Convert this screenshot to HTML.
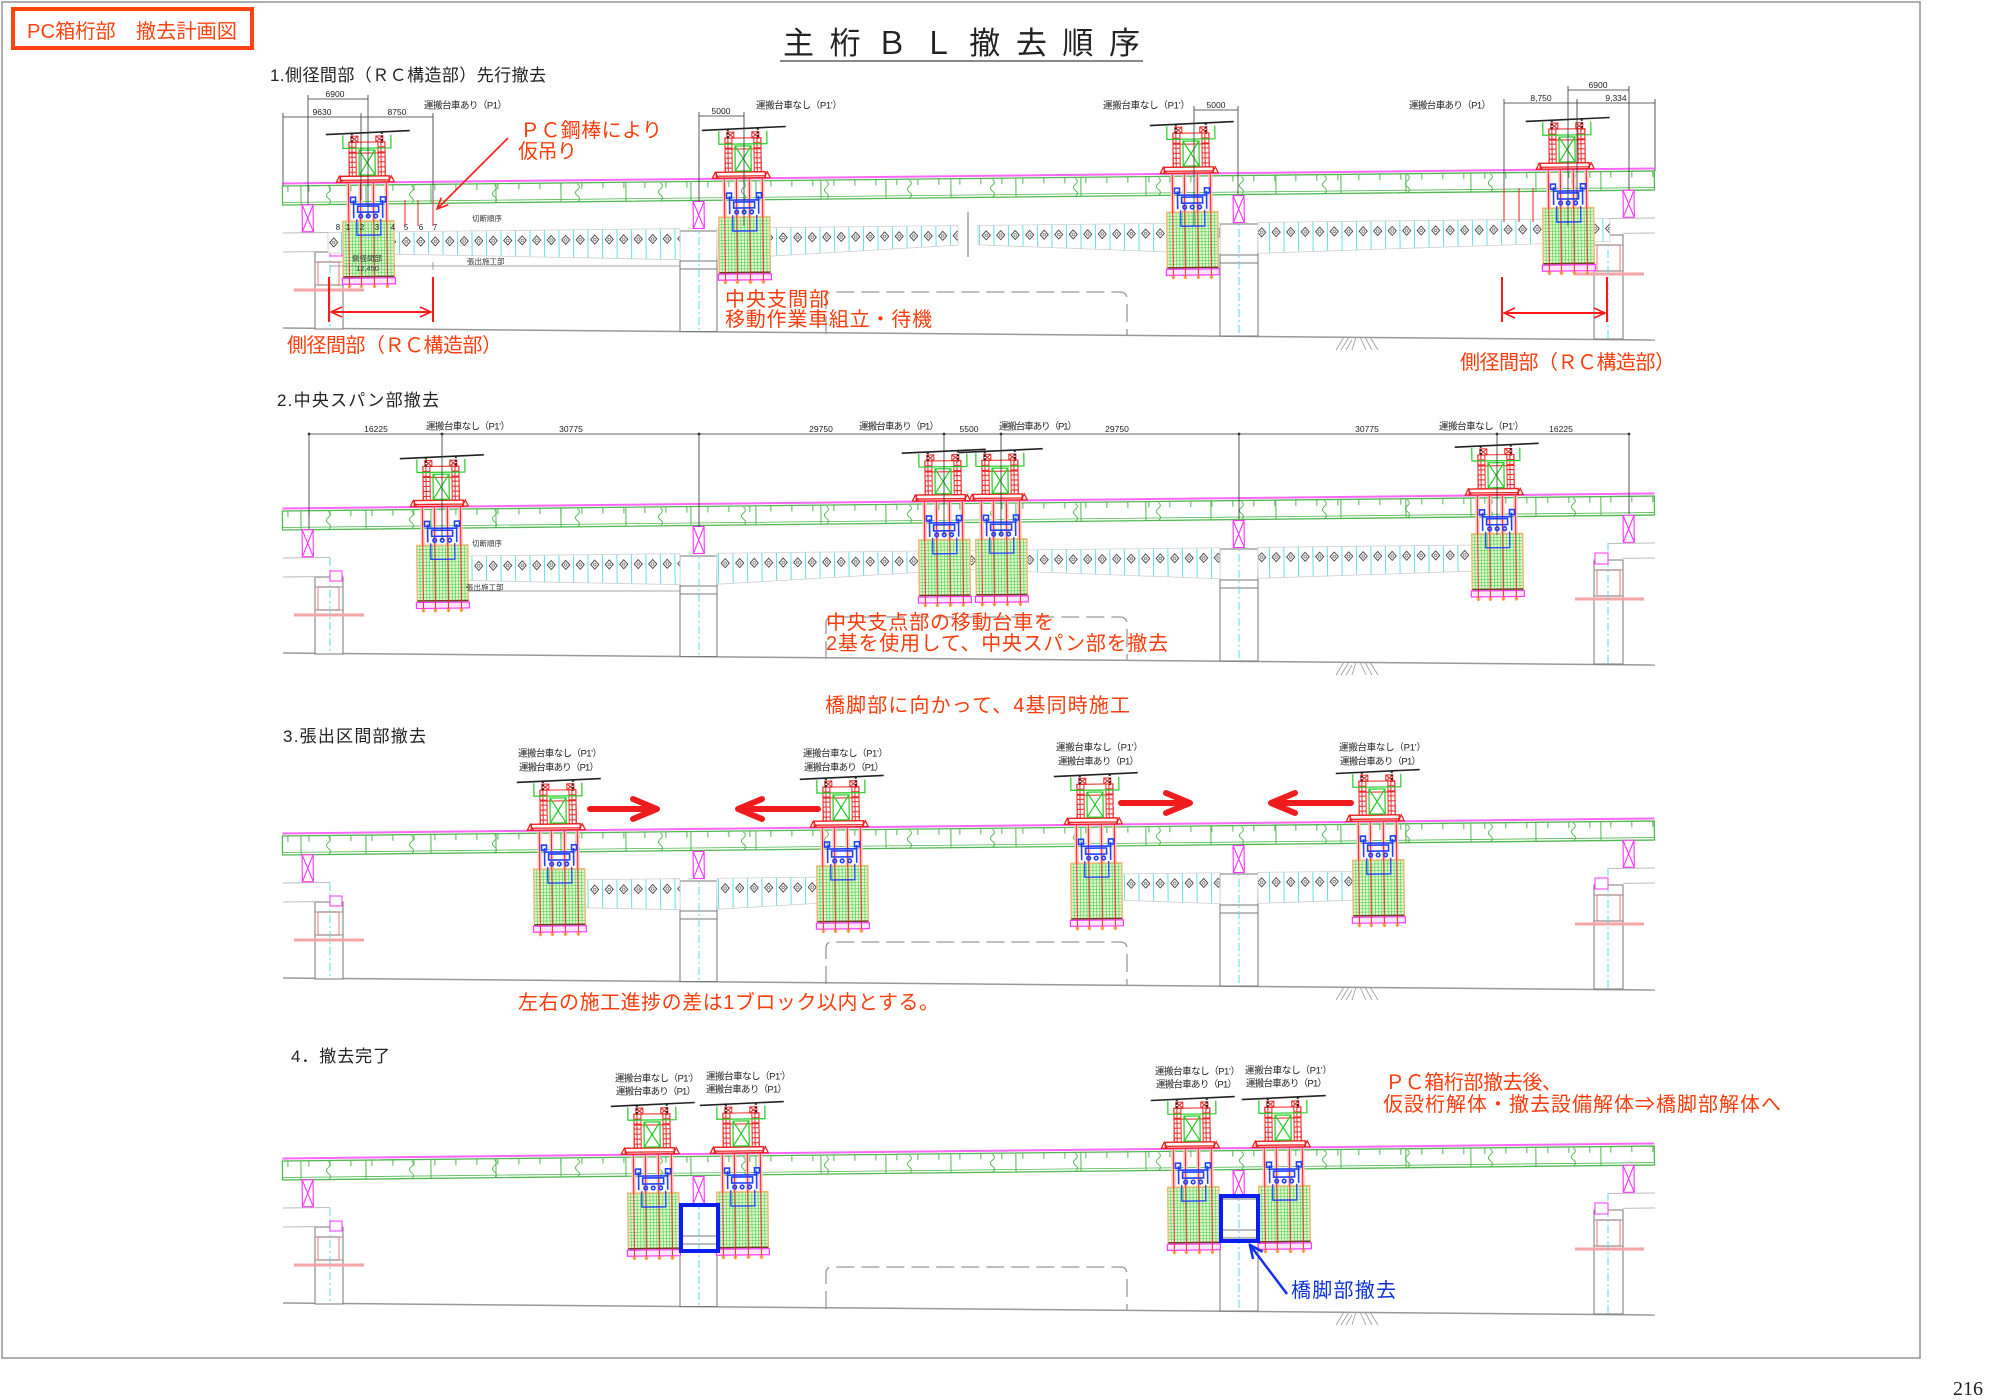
<!DOCTYPE html>
<html><head><meta charset="utf-8"><style>
html,body{margin:0;padding:0;background:#fff;}
svg{display:block;}
text{font-family:"Liberation Sans","Noto Sans CJK JP",sans-serif;}
</style></head><body>
<svg width="2000" height="1400" viewBox="0 0 2000 1400" xmlns="http://www.w3.org/2000/svg">
<defs>
 <pattern id="grid" patternUnits="userSpaceOnUse" width="3.2" height="3.2"><rect width="3.2" height="3.2" fill="#e4fad4"/><path d="M0,0.3H3.2M0.3,0V3.2" stroke="#45cc45" stroke-width="0.65"/></pattern>
 <pattern id="seg" patternUnits="userSpaceOnUse" x="0" y="-30" width="14.5" height="60">
  <rect width="14.5" height="60" fill="#fff"/>
  <line x1="0.5" y1="0" x2="0.5" y2="60" stroke="#5fe2ec" stroke-width="1"/>
  <path d="M7.25,25.5L11.25,30L7.25,34.5L3.25,30Z" fill="#fff" stroke="#333" stroke-width="0.9"/>
  <circle cx="7.25" cy="30" r="1.3" fill="none" stroke="#555" stroke-width="0.6"/>
 </pattern>
 <marker id="arR" markerUnits="userSpaceOnUse" markerWidth="14" markerHeight="14" refX="12" refY="7" orient="auto-start-reverse"><path d="M1,2L12,7L1,12" fill="none" stroke="#ff1a1a" stroke-width="1.6"/></marker>
 <marker id="arB" markerUnits="userSpaceOnUse" markerWidth="16" markerHeight="16" refX="14" refY="8" orient="auto"><path d="M1,2L14,8L1,14" fill="none" stroke="#1030ee" stroke-width="2.5"/></marker>
 <path id="sq" d="M0,-56q4,3 0,6q-4,3 0,6q4,3 0,6" fill="none" stroke="#4fb84f" stroke-width="0.9"/>

 <g id="veh">
  <g stroke="#ffc4c4" stroke-width="4"><path d="M-19,0V104M-7,0V104M6,0V104M19,0V104"/></g>
  <rect x="-25" y="38" width="51" height="62" fill="url(#grid)" stroke="#f2b878" stroke-width="1.5"/>
  <path d="M-25,93.5H26" stroke="#6b4020" stroke-width="1.5"/>
  <rect x="-26" y="95" width="53" height="6" fill="#ffe6ff" stroke="#ff3cff" stroke-width="1.2"/>
  <g stroke="#ff8a1a" stroke-width="2"><path d="M-19,101V105M-7,101V105M6,101V105M19,101V105"/></g>
  <g stroke="#ee2a2a" stroke-width="1"><path d="M-19,0V101M-7,0V101M6,0V101M19,0V101"/></g>
  <g stroke="#2040ff" fill="none" stroke-width="1.6">
   <path d="M-14,17V35M15,17V35M-14,21H15"/>
   <rect x="-10" y="23" width="21" height="6"/>
   <circle cx="-7" cy="33" r="1.8"/><circle cx="0.5" cy="33" r="1.8"/><circle cx="8" cy="33" r="1.8"/>
   <path d="M-11,36V52H13V36" stroke-width="1.3"/>
   <rect x="-17" y="14" width="5" height="5"/><rect x="13" y="14" width="5" height="5"/>
  </g>
  <g stroke="#ee2222" fill="none" stroke-width="1">
   <rect x="-18" y="-41" width="36" height="34"/>
   <rect x="-18" y="-41" width="7" height="34"/><rect x="11" y="-41" width="7" height="34"/>
   <path d="M-18,-36H-11M-18,-31H-11M-18,-26H-11M-18,-21H-11M-18,-16H-11M-18,-11H-11M11,-36H18M11,-31H18M11,-26H18M11,-21H18M11,-16H18M11,-11H18M-18,-30H18M-15,-41V-7M14,-41V-7"/>
   <rect x="-16" y="-47" width="7" height="6"/><path d="M-16,-47l7,6m0,-6l-7,6"/>
   <rect x="9" y="-47" width="7" height="6"/><path d="M9,-47l7,6m0,-6l-7,6"/>
   <rect x="-27" y="-7" width="49" height="6" stroke-width="1.4"/>
   <path d="M-27,-3H22M-31,-1l3,-6l3,6zM21,-1l3,-6l3,6z" stroke-width="1.3"/>
  </g>
  <g stroke="#22cc22" fill="none" stroke-width="1.2">
   <path d="M-24,-48V-35H24V-48"/>
   <rect x="-8" y="-33" width="16" height="25"/><path d="M-8,-33L8,-8M8,-33L-8,-8"/>
  </g>
  <line x1="-41" y1="-49" x2="43" y2="-52" stroke="#222" stroke-width="1.6"/>
  <g stroke="#222" stroke-width="2" stroke-dasharray="2 1.5"><path d="M-15,-50V-40M15,-51V-40"/></g>
 </g>

 <g id="base">
  <line x1="283" y1="328" x2="1655" y2="340" stroke="#999" stroke-width="1.5"/>
  <path d="M1336,350L1344,337M1341,350L1349,337M1346,350L1352,340M1352,350L1356,337M1360,337L1366,350M1365,337L1372,350M1370,337L1378,350" stroke="#999" stroke-width="0.8"/>
  <path d="M826,334V298Q826,292 832,292H1120Q1127,292 1127,299V335" fill="none" stroke="#999" stroke-width="1.3" stroke-dasharray="18 7"/>
  <rect x="680" y="231" width="37" height="100.5" fill="#fff" stroke="#777" stroke-width="1"/>
  <path d="M680,261H717M680,269H717" stroke="#777" stroke-width="1"/>
  <line x1="699" y1="205" x2="699" y2="331" stroke="#55dde8" stroke-width="1" stroke-dasharray="8 3 2 3"/>
  <rect x="1220" y="224" width="38" height="112" fill="#fff" stroke="#777" stroke-width="1"/>
  <path d="M1220,255H1258M1220,263H1258" stroke="#777" stroke-width="1"/>
  <line x1="1239" y1="197" x2="1239" y2="336" stroke="#55dde8" stroke-width="1" stroke-dasharray="8 3 2 3"/>
  <rect x="315" y="252" width="28" height="77" fill="#fff" stroke="#777" stroke-width="1"/>
  <rect x="318" y="262" width="21" height="23" fill="none" stroke="#f09090" stroke-width="1.2"/>
  <path d="M315,262H343M315,285H343" stroke="#777" stroke-width="0.8"/>
  <rect x="294" y="288.5" width="70" height="3" fill="#f5a5a5"/>
  <line x1="330" y1="233" x2="330" y2="328" stroke="#55dde8" stroke-width="1" stroke-dasharray="8 3 2 3"/>
  <rect x="330" y="246" width="12" height="10" fill="#fff" stroke="#ff33ff" stroke-width="1"/>
  <rect x="1594" y="235" width="29" height="104" fill="#fff" stroke="#777" stroke-width="1"/>
  <rect x="1597" y="245" width="23" height="26" fill="none" stroke="#f09090" stroke-width="1.2"/>
  <path d="M1594,245H1623M1594,271H1623" stroke="#777" stroke-width="0.8"/>
  <rect x="1575" y="272.5" width="69" height="3" fill="#f5a5a5"/>
  <line x1="1608" y1="218" x2="1608" y2="339" stroke="#55dde8" stroke-width="1" stroke-dasharray="8 3 2 3"/>
  <rect x="1595" y="228" width="13" height="11" fill="#fff" stroke="#ff33ff" stroke-width="1"/>
  <g transform="translate(283,243) rotate(-0.626)">
   <path d="M0,-10H47M0,9H33M1326,-10H1372M1340,5H1372" stroke="#bbb" stroke-width="1"/>
   <line x1="0" y1="-59.5" x2="1372" y2="-59.5" stroke="#ff66ff" stroke-width="2"/>
   <rect x="0" y="-57" width="1372" height="19" fill="none" stroke="#4fb84f" stroke-width="1.3"/>
   <line x1="0" y1="-40.5" x2="1372" y2="-40.5" stroke="#4fb84f" stroke-width="0.8"/>
   <line x1="5" y1="-54" x2="1372" y2="-54" stroke="#4fb84f" stroke-width="6" stroke-dasharray="1 20"/>
   <line x1="18" y1="-47.5" x2="1372" y2="-47.5" stroke="#4fb84f" stroke-width="19" stroke-dasharray="1 64"/>
   <use href="#sq" x="46"/><use href="#sq" x="129"/><use href="#sq" x="212"/><use href="#sq" x="295"/>
   <use href="#sq" x="378"/><use href="#sq" x="461"/><use href="#sq" x="544"/><use href="#sq" x="627"/>
   <use href="#sq" x="710"/><use href="#sq" x="793"/><use href="#sq" x="876"/><use href="#sq" x="959"/>
   <use href="#sq" x="1042"/><use href="#sq" x="1125"/><use href="#sq" x="1208"/><use href="#sq" x="1291"/>
   <g fill="#fff" stroke="#ff33ff" stroke-width="1.1">
    <rect x="19.5" y="-38" width="11" height="27"/><path d="M19.5,-38l11,27m0,-27l-11,27"/>
    <rect x="410.5" y="-37" width="11" height="27"/><path d="M410.5,-37l11,27m0,-27l-11,27"/>
    <rect x="950.5" y="-37" width="11" height="27"/><path d="M950.5,-37l11,27m0,-27l-11,27"/>
    <rect x="1340.5" y="-38" width="11" height="27"/><path d="M1340.5,-38l11,27m0,-27l-11,27"/>
   </g>
  </g>
 </g>
</defs>

<rect x="2" y="2" width="1918" height="1356" fill="none" stroke="#9a9a9a" stroke-width="1.6"/>
<text x="1953" y="1395" font-size="20" style="font-family:'Liberation Serif',serif" fill="#222">216</text>

<rect x="13" y="9" width="239" height="39" fill="none" stroke="#ff4411" stroke-width="4"/>
<text x="27" y="38" font-size="20" fill="#ff4411" textLength="210" lengthAdjust="spacingAndGlyphs">PC箱桁部　撤去計画図</text>

<text y="54" font-size="31" fill="#222" x="783 829.6 876.1 922.7 969.3 1015.9 1062.4 1109">主桁ＢＬ撤去順序</text>
<line x1="780" y1="61" x2="1143" y2="61" stroke="#888" stroke-width="2"/>

<text x="270" y="81" font-size="17" fill="#222" textLength="276">1.側径間部（ＲＣ構造部）先行撤去</text>
<text x="277" y="406" font-size="17" fill="#222" textLength="162">2.中央スパン部撤去</text>
<text x="283" y="742" font-size="17" fill="#222" textLength="143">3.張出区間部撤去</text>
<text x="291" y="1062" font-size="17" fill="#222" textLength="99">4．撤去完了</text>

<!-- SECTION 1 -->
<use href="#base"/>
<line x1="968" y1="212" x2="968" y2="257" stroke="#888" stroke-width="1.2"/>
<g transform="translate(283,243) rotate(-0.626)">
 <g fill="url(#seg)" stroke="#cfcfcf" stroke-width="0.8">
  <polygon points="45,-10 397,-10 397,21 45,10.4"/>
  <polygon points="434,-10 675,-10 675,9.5 434,21"/>
  <polygon points="695,-10 937,-10 937,21 695,9.5"/>
  <polygon points="975,-10 1327,-10 1327,13 975,21"/>
 </g>
 <use href="#veh" x="85" y="-59"/>
 <use href="#veh" x="461" y="-59"/>
 <use href="#veh" x="909" y="-59"/>
 <use href="#veh" x="1285" y="-59"/>
</g>
<g stroke="#333" stroke-width="0.8" fill="none">
 <path d="M308,99H368M283,117H433M308,95V204M368,95V218M361,113V200M283,113V186M433,113V215M699,116H744M699,112V202M744,112V226M1194,110H1238M1194,106V226M1238,106V194M1568,90H1629M1504,103H1655M1568,86V226M1577,99V200M1629,86V190M1504,99V222M1655,99V171"/>
 <path d="M330,266H680M433,262V270" stroke="#888"/>
</g>
<g font-size="8.5" fill="#222" text-anchor="middle">
 <text x="335" y="97">6900</text><text x="322" y="115">9630</text><text x="397" y="115">8750</text>
 <text x="721" y="114">5000</text><text x="1216" y="108">5000</text>
 <text x="1598" y="88">6900</text><text x="1541" y="101">8,750</text><text x="1616" y="101">9,334</text>
</g>
<g font-size="9.5" fill="#222">
 <text x="424" y="108.5" textLength="83">運搬台車あり（P1）</text>
 <text x="756" y="108.5" textLength="86">運搬台車なし（P1’）</text>
 <text x="1103" y="108.5" textLength="87">運搬台車なし（P1’）</text>
 <text x="1409" y="108.5" textLength="82">運搬台車あり（P1）</text>
</g>
<g font-size="7.5" fill="#333">
 <text x="472" y="221">切断順序</text><text x="467" y="264">張出施工部</text>
 <text x="352" y="261">側径間部</text><text x="356" y="271">12,450</text>
</g>
<g font-size="8" fill="#222" text-anchor="middle">
 <text x="338" y="230">8</text><text x="348" y="230">1</text><text x="362" y="230">2</text><text x="377" y="230">3</text><text x="393" y="230">4</text><text x="406" y="230">5</text><text x="421" y="230">6</text><text x="435" y="230">7</text>
</g>
<g stroke="#ee2222" stroke-width="1"><path d="M405,200V226M418,200V226M433,200V226M1504,188V222M1519,188V222M1533,188V222"/></g>
<line x1="508" y1="138" x2="437" y2="209" stroke="#ff1a1a" stroke-width="1.6" marker-end="url(#arR)"/>
<g stroke="#ff1a1a" stroke-width="2" fill="none">
 <path d="M329,277V322M433,277V322M1502,277V322M1607,277V322"/>
 <line x1="331" y1="312" x2="431" y2="312" marker-start="url(#arR)" marker-end="url(#arR)"/>
 <line x1="1504" y1="313" x2="1605" y2="313" marker-start="url(#arR)" marker-end="url(#arR)"/>
</g>
<g font-size="20" fill="#ff3c0c">
 <text x="520" y="137" textLength="142">ＰＣ鋼棒により</text>
 <text x="518" y="158" textLength="59">仮吊り</text>
 <text x="287" y="352" textLength="215">側径間部（ＲＣ構造部）</text>
 <text x="1460" y="369" textLength="215">側径間部（ＲＣ構造部）</text>
 <text x="725" y="306" textLength="104">中央支間部</text>
 <text x="725" y="326" textLength="207">移動作業車組立・待機</text>
</g>

<!-- SECTION 2 -->
<use href="#base" y="325"/>
<g transform="translate(283,568) rotate(-0.626)">
 <g fill="url(#seg)" stroke="#cfcfcf" stroke-width="0.8">
  <polygon points="160,-10 397,-10 397,21 160,13.8"/>
  <polygon points="434,-10 937,-10 937,21 685,9 434,21"/>
  <polygon points="975,-10 1214,-10 1214,15.6 975,21"/>
 </g>
 <use href="#veh" x="159" y="-59"/>
 <use href="#veh" x="661" y="-59"/>
 <use href="#veh" x="718" y="-59"/>
 <use href="#veh" x="1214" y="-59"/>
</g>
<g stroke="#333" stroke-width="0.8" fill="none">
 <path d="M309,434H1629M309,434V529M442,434V540M699,434V527M944,434V535M1001,434V535M1239,434V519M1497,434V535M1629,434V514"/>
 <path d="M469,591H680" stroke="#888"/>
</g>
<g fill="#333"><circle cx="309" cy="434" r="1.4"/><circle cx="442" cy="434" r="1.4"/><circle cx="699" cy="434" r="1.4"/><circle cx="944" cy="434" r="1.4"/><circle cx="1001" cy="434" r="1.4"/><circle cx="1239" cy="434" r="1.4"/><circle cx="1497" cy="434" r="1.4"/><circle cx="1629" cy="434" r="1.4"/></g>
<g font-size="8.5" fill="#222" text-anchor="middle">
 <text x="376" y="432">16225</text><text x="571" y="432">30775</text><text x="821" y="432">29750</text><text x="969" y="432">5500</text>
 <text x="1117" y="432">29750</text><text x="1367" y="432">30775</text><text x="1561" y="432">16225</text>
</g>
<g font-size="9.5" fill="#222">
 <text x="426" y="429.5" textLength="84">運搬台車なし（P1’）</text>
 <text x="859" y="429.5" textLength="80">運搬台車あり（P1）</text>
 <text x="999" y="429.5" textLength="78">運搬台車あり（P1）</text>
 <text x="1439" y="429.5" textLength="85">運搬台車なし（P1’）</text>
</g>
<g font-size="7.5" fill="#333"><text x="472" y="546">切断順序</text><text x="466" y="590">張出施工部</text></g>
<g font-size="20" fill="#ff3c0c">
 <text x="826" y="629" textLength="228">中央支点部の移動台車を</text>
 <text x="826" y="650" textLength="342">2基を使用して、中央スパン部を撤去</text>
 <text x="825" y="712" textLength="305">橋脚部に向かって、4基同時施工</text>
</g>

<!-- SECTION 3 -->
<use href="#base" y="650"/>
<g transform="translate(283,893) rotate(-0.626)">
 <g fill="url(#seg)" stroke="#cfcfcf" stroke-width="0.8">
  <polygon points="273,-10 397,-10 397,21 273,17.3"/>
  <polygon points="434,-10 565,-10 565,14.7 434,21"/>
  <polygon points="811,-10 937,-10 937,21 811,15"/>
  <polygon points="975,-10 1100,-10 1100,18.2 975,21"/>
 </g>
 <use href="#veh" x="276" y="-59"/>
 <use href="#veh" x="559" y="-59"/>
 <use href="#veh" x="813" y="-59"/>
 <use href="#veh" x="1095" y="-59"/>
</g>
<g font-size="9.5" fill="#222">
 <text x="518" y="756.5" textLength="84">運搬台車なし（P1’）</text><text x="519" y="770.5" textLength="80">運搬台車あり（P1）</text>
 <text x="803" y="756.5" textLength="85">運搬台車なし（P1’）</text><text x="804" y="770.5" textLength="80">運搬台車あり（P1）</text>
 <text x="1056" y="750.5" textLength="87">運搬台車なし（P1’）</text><text x="1058" y="764.5" textLength="81">運搬台車あり（P1）</text>
 <text x="1339" y="750.5" textLength="87">運搬台車なし（P1’）</text><text x="1340" y="764.5" textLength="81">運搬台車あり（P1）</text>
</g>
<g stroke="#ee1c1c" stroke-width="6" fill="none" stroke-linecap="round" stroke-linejoin="round">
 <path d="M590,809H654M633,799L657,809L633,819"/>
 <path d="M818,809H742M762,799L738,809L762,819"/>
 <path d="M1121,803H1186M1166,793L1190,803L1166,813"/>
 <path d="M1351,803H1275M1295,793L1271,803L1295,813"/>
</g>
<text x="518" y="1009" font-size="20" fill="#ff3c0c" textLength="421">左右の施工進捗の差は1ブロック以内とする。</text>

<!-- SECTION 4 -->
<use href="#base" y="975"/>
<g fill="#fff" stroke="#333" stroke-width="0.9">
 <path d="M673,1212.5l4,4.5l-4,4.5l-4,-4.5z"/><path d="M724,1212.5l4,4.5l-4,4.5l-4,-4.5z"/>
 <path d="M1211,1205.5l4,4.5l-4,4.5l-4,-4.5z"/><path d="M1263,1205.5l4,4.5l-4,4.5l-4,-4.5z"/>
</g>
<g transform="translate(283,1218) rotate(-0.626)">
 <use href="#veh" x="370" y="-59"/>
 <use href="#veh" x="459" y="-59"/>
 <use href="#veh" x="910" y="-59"/>
 <use href="#veh" x="1001" y="-59"/>
</g>
<g fill="none" stroke="#0a1ef0" stroke-width="4">
 <rect x="681" y="1205" width="37" height="46"/>
 <rect x="1221" y="1196" width="37" height="45"/>
</g>
<line x1="1287" y1="1294" x2="1250" y2="1245" stroke="#1030ee" stroke-width="2.5" marker-end="url(#arB)"/>
<g font-size="9.5" fill="#222">
 <text x="615" y="1081.5" textLength="84">運搬台車なし（P1’）</text><text x="616" y="1094.5" textLength="80">運搬台車あり（P1）</text>
 <text x="706" y="1079.5" textLength="85">運搬台車なし（P1’）</text><text x="706" y="1092.5" textLength="81">運搬台車あり（P1）</text>
 <text x="1155" y="1074.5" textLength="85">運搬台車なし（P1’）</text><text x="1156" y="1087.5" textLength="81">運搬台車あり（P1）</text>
 <text x="1245" y="1073.5" textLength="87">運搬台車なし（P1’）</text><text x="1246" y="1086.5" textLength="81">運搬台車あり（P1）</text>
</g>
<g font-size="20" fill="#ff3c0c">
 <text x="1385" y="1089" textLength="177">ＰＣ箱桁部撤去後、</text>
 <text x="1383" y="1111" textLength="398">仮設桁解体・撤去設備解体⇒橋脚部解体へ</text>
</g>
<text x="1291" y="1297" font-size="20" fill="#1133dd" textLength="105">橋脚部撤去</text>
</svg>
</body></html>
